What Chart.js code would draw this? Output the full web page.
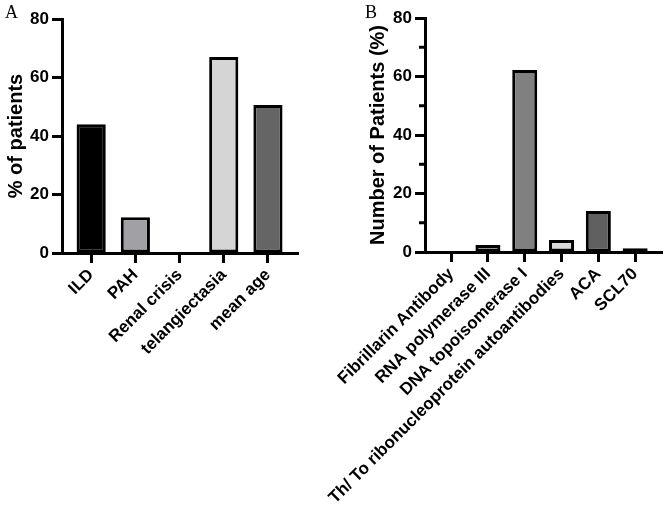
<!DOCTYPE html>
<html>
<head>
<meta charset="utf-8">
<script src="https://cdn.jsdelivr.net/npm/chart.js@4.4.1/dist/chart.umd.min.js"></script>
<style>
  body { margin: 0; background: #fff; }
  #wrap { position: relative; width: 664px; height: 518px; overflow: hidden; }
  canvas { position: absolute; top: 0; }
  #chartA { left: 0; }
  #chartB { left: 300px; }
  .panel { position: absolute; top: 2px; font: 18px "Liberation Serif", "Times New Roman", serif; color: #000; }
</style>
</head>
<body>
<div id="wrap">
  <canvas id="chartA" width="330" height="518"></canvas>
  <canvas id="chartB" width="364" height="518"></canvas>
  <div class="panel" style="left:5px">A</div>
  <div class="panel" style="left:365px">B</div>
</div>
<script>
// panel A
const labelsA = ["ILD", "PAH", "Renal crisis", "telangiectasia", "mean age"];
const valuesA = [44, 12.2, 0, 67, 50.6];
const colorsA = ["#000000", "#a1a1a5", "#808080", "#d5d5d5", "#656565"];

// panel B
const labelsB = ["Fibrillarin Antibody", "RNA polymerase III", "DNA topoisomerase I",
                 "Th/ To ribonucleoprotein autoantibodies", "ACA", "SCL70"];
const valuesB = [0, 2.4, 62.2, 4.1, 14, 1.3];
const colorsB = ["#000000", "#a6a6a6", "#808080", "#d9d9d9", "#606060", "#000000"];

const yTicks = [0, 20, 40, 60, 80];
const minorTicksB = [10, 30, 50, 70];

const FONT = "'Liberation Sans', Arial, sans-serif";

// small ticks between the labelled ones (panel B only)
const minorTickPlugin = {
    id: "minorTicks",
    afterDraw(chart, args, opts) {
        if (!opts.values) return;
        const y = chart.scales.y;
        const ctx = chart.ctx;
        ctx.save();
        ctx.strokeStyle = "#000";
        ctx.lineWidth = 3;
        opts.values.forEach(v => {
            const py = y.getPixelForValue(v);
            ctx.beginPath();
            ctx.moveTo(y.right - 6, py);
            ctx.lineTo(y.right, py);
            ctx.stroke();
        });
        ctx.restore();
    }
};

function makeChart(id, labels, values, colors, opt) {
    const ctx = document.getElementById(id).getContext("2d");
    return new Chart(ctx, {
        type: "bar",
        data: {
            datasets: [{
                data: values.map((v, i) => ({ x: i, y: v })),
                backgroundColor: colors,
                borderColor: "#000",
                borderWidth: 3,
                borderSkipped: false,
                categoryPercentage: 1,
                barPercentage: opt.barPct
            }]
        },
        options: {
            responsive: false,
            animation: false,
            layout: {
                padding: { left: opt.padLeft, right: opt.padRight, top: opt.padTop, bottom: 0 }
            },
            plugins: {
                legend: { display: false },
                tooltip: { enabled: false },
                minorTicks: { values: opt.minor }
            },
            scales: {
                x: {
                    type: "linear",
                    offset: false,
                    min: opt.xMin,
                    max: opt.xMax,
                    afterBuildTicks: s => { s.ticks = labels.map((l, i) => ({ value: i })); },
                    afterFit: s => { s.height = opt.xHeight; s.paddingLeft = 0; s.paddingRight = 0; },
                    grid: { offset: false, drawOnChartArea: false, tickLength: 10, tickWidth: 3, tickColor: "#000" },
                    border: { color: "#000", width: 3 },
                    ticks: {
                        autoSkip: false,
                        minRotation: 45,
                        maxRotation: 45,
                        padding: 2,
                        color: "#000",
                        font: { family: FONT, size: 17, weight: "bold" },
                        callback: v => labels[v]
                    }
                },
                y: {
                    min: 0,
                    max: 80,
                    afterBuildTicks: s => { s.ticks = yTicks.map(v => ({ value: v })); },
                    afterFit: s => { s.width = opt.yWidth; },
                    grid: { drawOnChartArea: false, tickLength: 10, tickWidth: 3, tickColor: "#000" },
                    border: { color: "#000", width: 3 },
                    ticks: {
                        padding: 3,
                        color: "#000",
                        font: { family: FONT, size: 17, weight: "bold" }
                    },
                    title: {
                        display: true,
                        text: opt.yTitle,
                        color: "#000",
                        padding: { top: 4, bottom: 0 },
                        font: { family: FONT, size: 20, weight: "bold" }
                    }
                }
            }
        },
        plugins: [minorTickPlugin]
    });
}

makeChart("chartA", labelsA, valuesA, colorsA, {
    yTitle: "% of patients",
    padLeft: 0, padRight: 32, padTop: 19,
    yWidth: 62, xHeight: 265,
    xMin: -0.66, xMax: 4.68,
    barPct: 0.66,
    minor: null
});

makeChart("chartB", labelsB, valuesB, colorsB, {
    yTitle: "Number of Patients (%)",
    padLeft: 62, padRight: 2, padTop: 18,
    yWidth: 63, xHeight: 266,
    xMin: -0.71, xMax: 5.73,
    barPct: 0.68,
    minor: minorTicksB
});
</script>
</body>
</html>
